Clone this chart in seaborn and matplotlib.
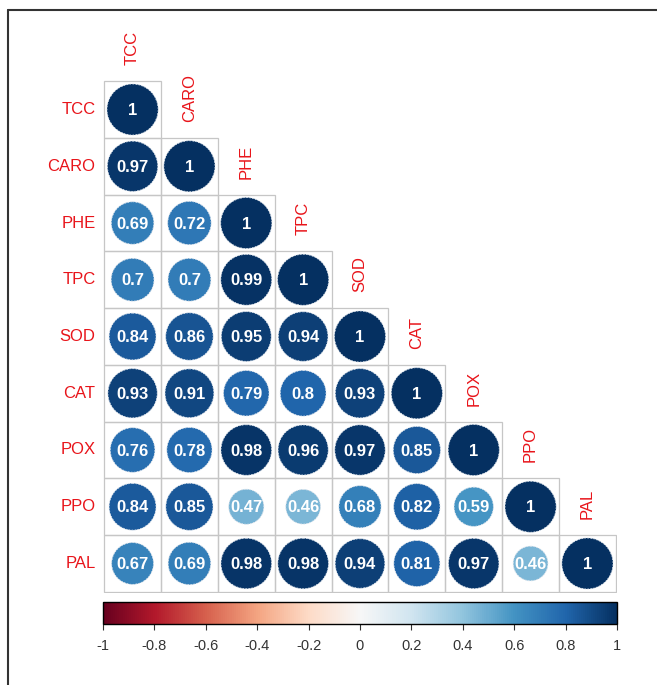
import matplotlib
matplotlib.use("Agg")
import matplotlib.pyplot as plt
from matplotlib.patches import Circle, Rectangle
from matplotlib.lines import Line2D
from matplotlib.colors import ListedColormap, Normalize
from matplotlib import cm
import seaborn as sns
import numpy as np
import pandas as pd

# variables and lower-triangle correlation values (row by row)
names = ['TCC', 'CARO', 'PHE', 'TPC', 'SOD', 'CAT', 'POX', 'PPO', 'PAL']
rows = [
    [1],
    [0.97, 1],
    [0.69, 0.72, 1],
    [0.7, 0.7, 0.99, 1],
    [0.84, 0.86, 0.95, 0.94, 1],
    [0.93, 0.91, 0.79, 0.8, 0.93, 1],
    [0.76, 0.78, 0.98, 0.96, 0.97, 0.85, 1],
    [0.84, 0.85, 0.47, 0.46, 0.68, 0.82, 0.59, 1],
    [0.67, 0.69, 0.98, 0.98, 0.94, 0.81, 0.97, 0.46, 1],
]
cbar_ticks = [-1, -0.8, -0.6, -0.4, -0.2, 0, 0.2, 0.4, 0.6, 0.8, 1]

sns.set_theme(style='white')
plt.rcParams['font.family'] = ['Liberation Sans', 'DejaVu Sans']

# build full symmetric matrix
n = len(names)
mat = np.zeros((n, n))
for i, r in enumerate(rows):
    for j, v in enumerate(r):
        mat[i, j] = v
        mat[j, i] = v
corr = pd.DataFrame(mat, index=names, columns=names)
mask = np.triu(np.ones_like(mat, dtype=bool), k=1)

W, H = 657, 685
fig = plt.figure(figsize=(W / 100, H / 100), dpi=100)
ax = fig.add_axes([103 / W, 1 - 593 / H, 514 / W, 513 / H])

# white background cells for the lower triangle (no lines; grid drawn below)
sns.heatmap(corr, mask=mask, cmap=ListedColormap(['white']), cbar=False,
            linewidths=0, ax=ax, xticklabels=False, yticklabels=False)
ax.set_xlim(-0.02, n + 0.02)
ax.set_ylim(n + 0.02, -0.02)
ax.set_axis_off()

cmap = plt.get_cmap('RdBu')
norm = Normalize(-1, 1)

for i in range(n):
    for j in range(i + 1):
        v = corr.iloc[i, j]
        ax.add_patch(Rectangle((j, i), 1, 1, facecolor='none',
                               edgecolor='#c6c6c6', linewidth=0.9, zorder=2))
        rad = 0.45 * np.sqrt(abs(v))
        col = cmap(norm(v))
        ax.add_patch(Circle((j + 0.5, i + 0.5), rad, facecolor=col,
                            edgecolor='#dde4ec', linewidth=0.6,
                            linestyle=(0, (2, 1.5)), zorder=3))
        ax.text(j + 0.5, i + 0.52, f"{v:g}", color='white', fontsize=12,
                fontweight='bold', ha='center', va='center', zorder=4)

# row labels on the left, column labels above the diagonal
for i, name in enumerate(names):
    ax.text(-0.15, i + 0.5, name, color='#e8141a', fontsize=12,
            ha='right', va='center', clip_on=False)
    ax.text(i + 0.5, i - 0.28, name, color='#e8141a', fontsize=12,
            ha='center', va='bottom', rotation=90, clip_on=False)

# colour bar
cax = fig.add_axes([103 / W, 1 - 624 / H, 514 / W, 22 / H])
sm = cm.ScalarMappable(norm=norm, cmap=cmap)
cb = fig.colorbar(sm, cax=cax, orientation='horizontal', ticks=cbar_ticks)
cb.ax.set_xticklabels([f"{t:g}" for t in cbar_ticks])
cb.ax.tick_params(axis='x', direction='out', length=4, width=0.8, color='#333333',
                  labelsize=10.5, labelcolor='#333333', pad=7, bottom=True)
cb.outline.set_edgecolor('black')
cb.outline.set_linewidth(1)

# outer frame (left and top edges)
fig.add_artist(Line2D([8 / W, 8 / W], [0, 1 - 10 / H], color='#333333', linewidth=1.5))
fig.add_artist(Line2D([8 / W, 1], [1 - 10 / H, 1 - 10 / H], color='#333333', linewidth=1.5))

fig.savefig('out.png', dpi=100, facecolor='white')
